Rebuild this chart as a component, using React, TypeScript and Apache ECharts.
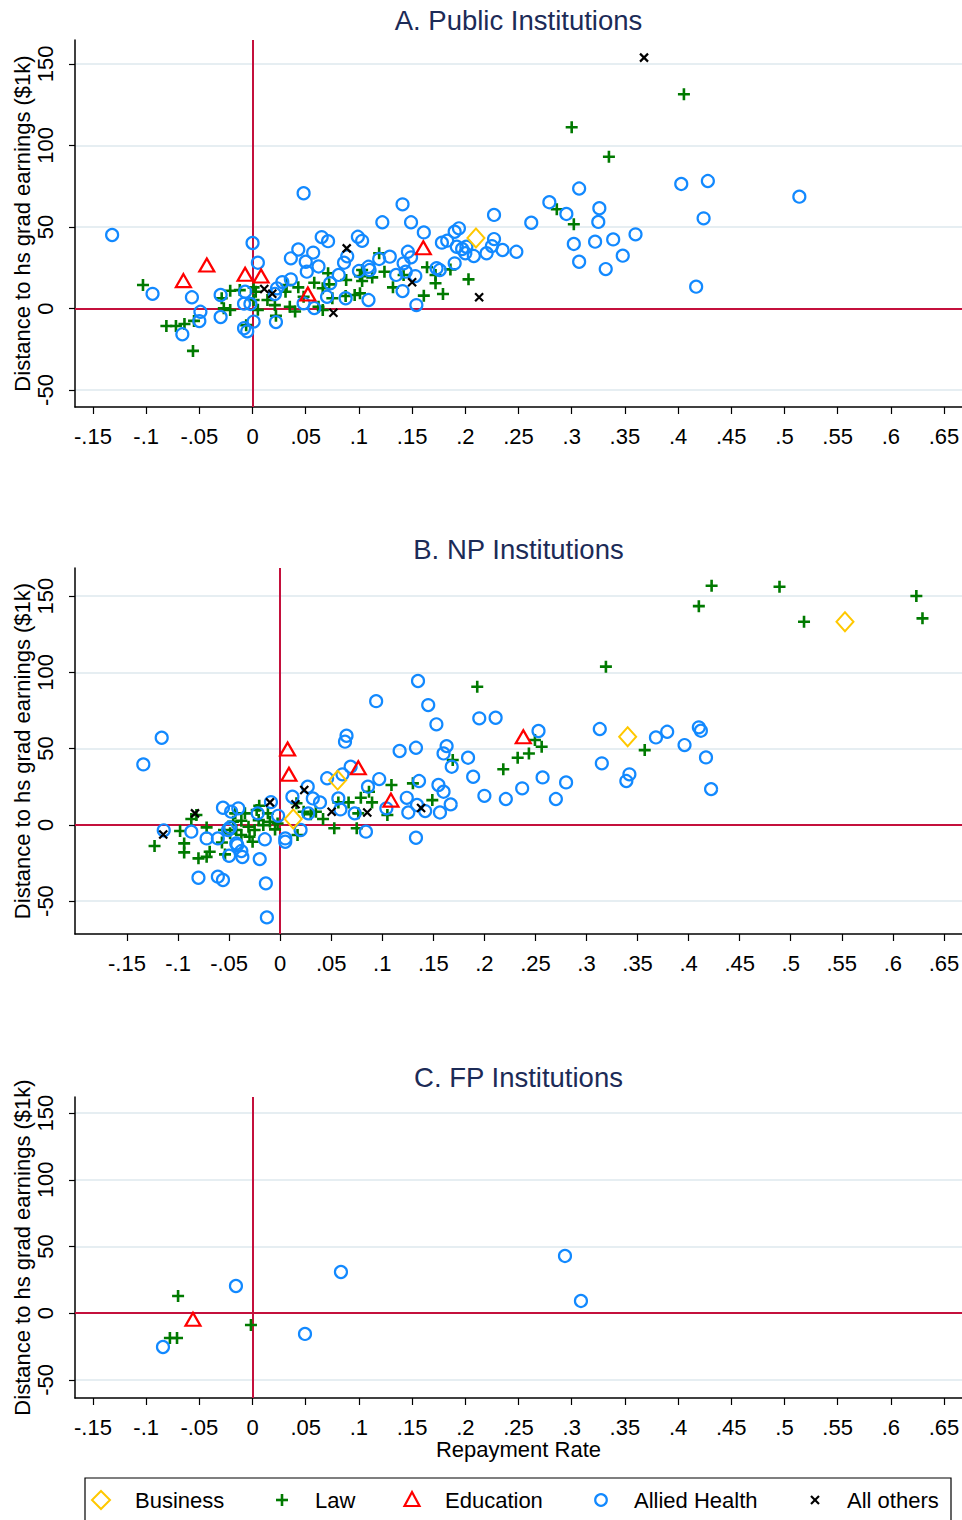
import React, { useEffect, useRef } from "react";
import * as echarts from "echarts";

// ---------- tick values ----------
const xTicks = [-0.15, -0.1, -0.05, 0, 0.05, 0.1, 0.15, 0.2, 0.25, 0.3, 0.35, 0.4, 0.45, 0.5, 0.55, 0.6, 0.65];
const yTicks = [-50, 0, 50, 100, 150];

const categories = ["Business", "Law", "Education", "Allied Health", "All others"];
const panelTitles = ["A. Public Institutions", "B. NP Institutions", "C. FP Institutions"];
const yAxisTitle = "Distance to hs grad earnings ($1k)";
const xAxisTitle = "Repayment Rate";

// ---------- Panel A: Public ----------
const pubBusiness = [[0.210, 43.3]];
const pubLaw = [
  [-0.103, 14.4], [-0.081, -10.7], [-0.072, -10.7], [-0.064, -9.5], [-0.055, -7.6], [-0.056, -26.0],
  [-0.029, 6.3], [-0.021, 10.9], [-0.027, 0.1], [-0.021, -0.9], [-0.012, 11.3], [-0.006, -10.2],
  [0.001, 13.0], [0.001, 5.2], [0.005, -0.8], [0.003, 10.3], [0.014, 5.2], [0.021, 2.1], [0.022, -4.5],
  [0.031, 10.3], [0.032, 14.4], [0.035, 1.1], [0.040, -1.8], [0.043, 13.0], [0.048, 7.2], [0.058, 15.8],
  [0.066, 12.4], [0.066, -0.9], [0.071, 21.6], [0.072, 14.8], [0.062, 1.1], [0.075, 6.3], [0.088, 17.5],
  [0.0875, 7.7], [0.096, 8.3], [0.101, 19.9], [0.103, 23.6], [0.103, 16.9], [0.101, 9.3], [0.1125, 19.1],
  [0.119, 33.9], [0.124, 22.6], [0.132, 13.0], [0.142, 20.6], [0.164, 25.3], [0.172, 20.6], [0.172, 15.5],
  [0.186, 24.0], [0.161, 7.9], [0.179, 8.9], [0.203, 17.9], [0.286, 60.9], [0.302, 51.7], [0.300, 111.2],
  [0.335, 93.1], [0.4055, 131.4],
];
const pubEducation = [[-0.065, 17.1], [-0.043, 26.7], [-0.007, 21.0], [0.008, 19.9], [0.052, 8.9], [0.1605, 37.3]];
const pubAllied = [
  [-0.132, 45.1], [-0.094, 9.0], [-0.057, 6.9], [-0.049, -2.0], [-0.050, -7.7], [-0.066, -15.8],
  [-0.030, 8.3], [-0.030, -5.2], [-0.008, 3.0], [-0.002, 2.8], [-0.008, -12.1], [-0.005, -14.0],
  [0.001, -8.0], [0.000, 40.2], [0.005, 28.1], [0.021, 8.9], [0.022, -8.3], [0.023, 12.4], [0.028, 16.2],
  [0.036, 30.8], [0.036, 17.9], [0.043, 36.2], [0.048, 70.7], [0.050, 28.7], [0.051, 22.6], [0.057, 34.3],
  [0.062, 25.8], [0.065, 43.8], [0.071, 41.3], [0.073, 15.5], [0.081, 20.6], [0.086, 28.1], [0.089, 32.0],
  [0.099, 44.0], [0.103, 41.5], [0.109, 25.6], [0.109, 5.2], [0.0875, 6.3], [0.058, 0.3], [0.048, 3.2],
  [0.070, 7.2], [-0.007, 10.3], [0.122, 52.9], [0.141, 63.9], [0.149, 52.9], [0.161, 46.7], [0.227, 57.4],
  [0.262, 52.6], [0.129, 31.8], [0.119, 30.4], [0.100, 23.0], [0.110, 23.6], [0.146, 34.8], [0.149, 31.4],
  [0.142, 27.7], [0.144, 22.6], [0.135, 20.6], [0.141, 10.7], [0.153, 19.9], [0.154, 2.1], [0.173, 24.7],
  [0.176, 23.6], [0.178, 40.4], [0.183, 41.6], [0.190, 47.1], [0.194, 49.2], [0.192, 37.9], [0.197, 36.5],
  [0.201, 37.9], [0.200, 33.9], [0.190, 27.7], [0.208, 32.2], [0.220, 33.9], [0.225, 38.3], [0.227, 42.6],
  [0.235, 35.9], [0.248, 34.8], [0.279, 65.2], [0.295, 58.0], [0.307, 73.6], [0.326, 61.5], [0.325, 53.1],
  [0.302, 39.6], [0.307, 28.7], [0.322, 41.0], [0.339, 42.4], [0.360, 45.5], [0.348, 32.4], [0.332, 24.2],
  [0.403, 76.4], [0.428, 78.2], [0.424, 55.3], [0.417, 13.4], [0.514, 68.6],
];
const pubOthers = [[0.368, 153.9], [0.0885, 36.9], [0.011, 12.0], [0.0185, 9.1], [0.076, -2.6], [0.150, 16.1], [0.213, 6.9]];

// ---------- Panel B: NP ----------
const npBusiness = [[0.0128, 3.8], [0.0563, 29.3], [0.3403, 57.7], [0.5531, 133.2]];
const npLaw = [
  [-0.123, -13.9], [-0.098, -4.1], [-0.094, -12.2], [-0.094, -18.1], [-0.087, 3.8], [-0.082, 6.4],
  [-0.080, -22.0], [-0.072, -21.0], [-0.069, -17.7], [-0.072, -1.7], [-0.057, -11.6], [-0.054, -19.4],
  [-0.055, -3.4], [-0.049, -5.6], [-0.046, 2.0], [-0.043, -3.4], [-0.044, 7.5], [-0.038, -6.7], [-0.038, 2.7],
  [-0.0345, 7.5], [-0.031, -1.3], [-0.030, -7.8], [-0.027, -11.1], [-0.0205, 12.5], [-0.023, 9.7],
  [-0.021, 3.1], [-0.025, -3.4], [-0.0165, -0.2], [-0.012, 7.5], [-0.010, 2.0], [-0.005, -3.0],
  [-0.0025, 0.9], [0.016, 14.1], [0.017, -6.7], [0.023, 8.6], [0.030, 6.9], [0.042, 3.8], [0.035, 8.6],
  [0.053, -2.3], [0.057, 14.7], [0.067, 14.7], [0.075, -2.3], [0.0765, 7.5], [0.079, 17.7], [0.087, 21.7],
  [0.090, 14.7], [0.105, 6.4], [0.109, 26.1], [0.130, 27.2], [0.149, 16.2], [0.169, 42.5], [0.193, 90.5],
  [0.2185, 36.4], [0.2326, 44.0], [0.2436, 46.8], [0.2495, 55.6], [0.2561, 51.2], [0.319, 103.7],
  [0.357, 49.0], [0.4225, 156.8], [0.410, 143.4], [0.489, 156.1], [0.513, 133.2], [0.623, 150.0], [0.629, 135.4],
];
const npEducation = [[0.0073, 49.7], [0.0086, 33.1], [0.0765, 37.4], [0.2381, 57.7], [0.1085, 16.2]];
const npAllied = [
  [-0.134, 39.6], [-0.116, 57.1], [-0.114, -3.6], [-0.087, -4.5], [-0.080, -34.7], [-0.061, -34.0],
  [-0.056, -36.2], [-0.072, -8.9], [-0.061, -8.9], [-0.056, 11.2], [-0.048, 8.6], [-0.041, 10.8],
  [-0.051, -3.4], [-0.050, -20.3], [-0.043, -12.2], [-0.038, -17.2], [-0.037, -21.1], [-0.020, -22.5],
  [-0.014, -38.4], [-0.013, -60.7], [-0.015, -9.5], [-0.022, 7.5], [-0.009, 14.9], [-0.002, 5.9],
  [0.005, -8.9], [0.005, -11.1], [0.012, 18.4], [0.020, -3.4], [0.027, 25.0], [0.032, 17.3], [0.039, 14.7],
  [0.0275, 7.5], [0.046, 30.5], [0.057, 17.3], [0.059, 10.1], [0.0635, 54.5], [0.065, 58.4], [0.069, 38.1],
  [0.061, 33.1], [0.073, 7.5], [0.084, -4.5], [0.086, 25.0], [0.094, 81.1], [0.097, 30.0], [0.117, 48.4],
  [0.133, 50.5], [0.124, 17.7], [0.1255, 8.1], [0.134, 13.0], [0.136, 28.7], [0.133, -8.5], [0.142, 9.0],
  [0.135, 94.3], [0.145, 78.5], [0.153, 65.9], [0.163, 51.6], [0.160, 46.8], [0.168, 38.1], [0.155, 26.1],
  [0.160, 21.7], [0.167, 13.4], [0.1565, 8.1], [0.184, 44.0], [0.189, 31.5], [0.195, 69.8], [0.211, 70.2],
  [0.200, 19.0], [0.221, 16.9], [0.237, 23.9], [0.253, 61.5], [0.257, 31.1], [0.270, 16.9], [0.280, 27.8],
  [0.313, 62.8], [0.315, 40.3], [0.339, 28.7], [0.342, 33.1], [0.368, 57.3], [0.379, 61.0], [0.396, 52.3],
  [0.410, 63.9], [0.412, 61.7], [0.417, 44.2], [0.422, 23.4], [0.104, 10.8], [-0.049, -1.7], [-0.042, -13.3],
];
const npOthers = [[-0.1145, -6.3], [-0.0834, 7.5], [-0.010, 14.7], [0.0236, 22.8], [0.015, 13.5], [0.0504, 8.6], [0.0853, 8.1], [0.138, 11.0]];

// ---------- Panel C: FP ----------
const fpBusiness: number[][] = [];
const fpLaw = [[-0.070, 12.9], [-0.0777, -18.5], [-0.071, -18.5], [-0.0015, -8.8]];
const fpEducation = [[-0.056, -4.5]];
const fpAllied = [[-0.0842, -25.3], [-0.0156, 20.4], [0.0831, 30.9], [0.0493, -15.5], [0.2937, 42.9], [0.3087, 9.2]];
const fpOthers: number[][] = [];

const FONT = "'Liberation Sans', Arial, Helvetica, sans-serif";
const C_BUS = "#ffc800";
const C_LAW = "#007a00";
const C_EDU = "#ff0000";
const C_ALL = "#1289ff";
const C_OTH = "#000000";
const C_REF = "#c4103c";
const C_GRID = "#e6eef2";

const PLUS = "path://M5,0V10M0,5H10";
const CROSS = "path://M0,0L10,10M10,0L0,10";

const fmtTick = (v: number) => {
  const s = String(+Number(v).toFixed(2));
  return s.replace(/^(-?)0\./, "$1.");
};

export default function App() {
  const ref = useRef<HTMLDivElement>(null);
  useEffect(() => {
    if (!ref.current) return;
    const chart = echarts.init(ref.current, undefined, { renderer: "svg" });

    const panels = [
      { top: 40, height: 367, xMin: -0.1669, xMax: 0.6669, yMin: -60.4, yMax: 164.7, sets: [pubBusiness, pubLaw, pubEducation, pubAllied, pubOthers], titleY: 20 },
      { top: 568, height: 366, xMin: -0.2009, xMax: 0.6677, yMin: -71.6, yMax: 168.4, sets: [npBusiness, npLaw, npEducation, npAllied, npOthers], titleY: 549 },
      { top: 1097, height: 301, xMin: -0.1669, xMax: 0.6669, yMin: -63.5, yMax: 162.0, sets: [fpBusiness, fpLaw, fpEducation, fpAllied, fpOthers], titleY: 1077 },
    ];

    const styles = [
      { symbol: "diamond", size: [17, 19], color: C_BUS, bw: 2 },
      { symbol: PLUS, size: 12, color: C_LAW, bw: 2.6 },
      { symbol: "triangle", size: [15, 13], color: C_EDU, bw: 2.2 },
      { symbol: "circle", size: 12, color: C_ALL, bw: 2.2 },
      { symbol: CROSS, size: 8, color: C_OTH, bw: 2.2 },
    ];
    const drawOrder = [1, 3, 2, 0, 4];

    const grids: any[] = [];
    const xAxes: any[] = [];
    const yAxes: any[] = [];
    const series: any[] = [];

    panels.forEach((p, i) => {
      grids.push({ left: 75, top: p.top, width: 887, height: p.height, containLabel: false, outerBoundsMode: "none" });
      xAxes.push({
        type: "value", gridIndex: i, min: p.xMin, max: p.xMax,
        axisLine: { show: true, onZero: false, lineStyle: { color: "#000", width: 1.5 } },
        axisTick: { show: true, length: 7, customValues: xTicks, lineStyle: { color: "#000", width: 1.2 } },
        axisLabel: { customValues: xTicks, formatter: fmtTick, fontSize: 22, color: "#000", margin: 18, fontFamily: FONT },
        splitLine: { show: false },
        name: i === 2 ? xAxisTitle : "",
        nameLocation: "middle", nameGap: 40, nameMoveOverlap: false,
        nameTextStyle: { fontSize: 22, color: "#000", fontFamily: FONT },
      });
      yAxes.push({
        type: "value", gridIndex: i, min: p.yMin, max: p.yMax,
        axisLine: { show: true, onZero: false, lineStyle: { color: "#000", width: 1.5 } },
        axisTick: { show: true, length: 6, customValues: yTicks, lineStyle: { color: "#000", width: 1.2 } },
        axisLabel: { customValues: yTicks, rotate: 90, fontSize: 22, color: "#000", margin: 19, fontFamily: FONT },
        splitLine: { show: false },
        name: yAxisTitle, nameLocation: "middle", nameGap: 42, nameMoveOverlap: false,
        nameTextStyle: { fontSize: 22, color: "#000", fontFamily: FONT },
      });
      series.push({
        type: "scatter", xAxisIndex: i, yAxisIndex: i, data: [], silent: true, z: 1,
        markLine: {
          z: 0, silent: true, symbol: ["none", "none"], label: { show: false },
          lineStyle: { color: C_GRID, width: 2, type: "solid" },
          emphasis: { disabled: true },
          data: yTicks.map((v) => ({ yAxis: v })),
        },
      });
      series.push({
        type: "scatter", xAxisIndex: i, yAxisIndex: i, data: [], silent: true, z: 1,
        markLine: {
          z: 1, silent: true, symbol: ["none", "none"], label: { show: false },
          lineStyle: { color: C_REF, width: 2, type: "solid" },
          emphasis: { disabled: true },
          data: [{ xAxis: 0 }, { yAxis: 0 }],
        },
      });
      drawOrder.forEach((k) => {
        const s = styles[k];
        series.push({
          name: categories[k], type: "scatter", xAxisIndex: i, yAxisIndex: i,
          data: p.sets[k], symbol: s.symbol, symbolSize: s.size, z: 3,
          itemStyle: { color: "transparent", borderColor: s.color, borderWidth: s.bw, opacity: 1 },
          emphasis: { disabled: true },
        });
      });
    });

    const graphics: any[] = [];
    panels.forEach((p, i) => {
      graphics.push({
        type: "text", x: 518.5, y: p.titleY,
        style: { text: panelTitles[i], fill: "#1c2b57", font: `27.5px ${FONT}`, textAlign: "center", textVerticalAlign: "middle" },
      });
    });
    // legend
    const ly = 1500;
    graphics.push({ type: "rect", shape: { x: 85, y: 1478, width: 866, height: 50 }, style: { fill: "none", stroke: "#000", lineWidth: 1.2 } });
    graphics.push({ type: "polygon", shape: { points: [[101, ly - 9], [110, ly], [101, ly + 9], [92, ly]] }, style: { fill: "none", stroke: C_BUS, lineWidth: 2 } });
    graphics.push({ type: "line", shape: { x1: 282, y1: ly - 6, x2: 282, y2: ly + 6 }, style: { stroke: C_LAW, lineWidth: 2.6 } });
    graphics.push({ type: "line", shape: { x1: 276, y1: ly, x2: 288, y2: ly }, style: { stroke: C_LAW, lineWidth: 2.6 } });
    graphics.push({ type: "polygon", shape: { points: [[412, ly - 8], [419.5, ly + 6], [404.5, ly + 6]] }, style: { fill: "none", stroke: C_EDU, lineWidth: 2.2 } });
    graphics.push({ type: "circle", shape: { cx: 601, cy: ly, r: 5.8 }, style: { fill: "none", stroke: C_ALL, lineWidth: 2.2 } });
    graphics.push({ type: "line", shape: { x1: 811, y1: ly - 4, x2: 819, y2: ly + 4 }, style: { stroke: C_OTH, lineWidth: 2.2 } });
    graphics.push({ type: "line", shape: { x1: 819, y1: ly - 4, x2: 811, y2: ly + 4 }, style: { stroke: C_OTH, lineWidth: 2.2 } });
    const lx = [135, 315, 445, 634, 847];
    categories.forEach((c, k) => {
      graphics.push({ type: "text", x: lx[k], y: ly, style: { text: c, fill: "#000", font: `22px ${FONT}`, textAlign: "left", textVerticalAlign: "middle" } });
    });

    chart.setOption({
      animation: false,
      backgroundColor: "#fff",
      grid: grids,
      xAxis: xAxes,
      yAxis: yAxes,
      series,
      graphic: graphics,
    });
    return () => chart.dispose();
  }, []);
  return <div ref={ref} style={{ position: "absolute", left: 0, top: 0, width: 962, height: 1520 }} />;
}
